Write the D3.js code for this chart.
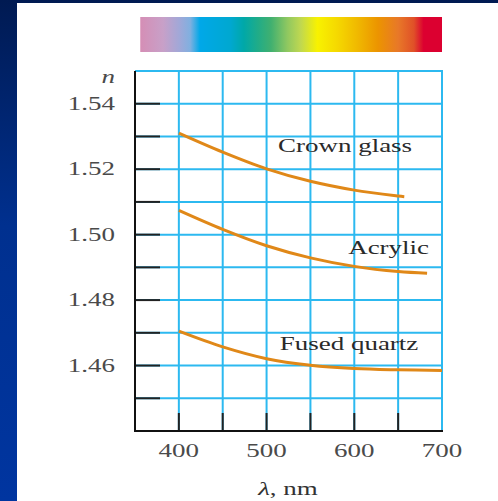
<!DOCTYPE html>
<html><head><meta charset="utf-8">
<script src="https://cdnjs.cloudflare.com/ajax/libs/d3/7.8.5/d3.min.js"></script>
<style>html,body{margin:0;padding:0;background:#fff;}svg{display:block;}</style>
</head><body>
<script>
// ---- data ----
const crownLambda   = [400, 450, 500, 550, 600, 650, 657];
const crownN        = [1.5310, 1.5252, 1.5201, 1.5163, 1.5136, 1.5118, 1.5116];
const acrylicLambda = [400, 450, 500, 550, 600, 650, 683];
const acrylicN      = [1.5074, 1.5016, 1.4966, 1.4929, 1.4903, 1.4887, 1.4882];
const quartzLambda  = [400, 450, 500, 550, 600, 650, 700];
const quartzN       = [1.4705, 1.4657, 1.4621, 1.4601, 1.4591, 1.4587, 1.4585];
const seriesNames   = ["Crown glass", "Acrylic", "Fused quartz"];
const labelLambda   = [513, 593, 515];
const labelN        = [1.5251, 1.4942, 1.4646];
const yTickLabels   = [1.46, 1.48, 1.50, 1.52, 1.54];
const xTickLabels   = [400, 500, 600, 700];
const spectrumLambda = [356, 382, 401, 413, 424, 459, 474, 490, 505, 524, 539, 558, 581, 604, 627, 650, 668, 679, 700];
const spectrumColor  = ["#d58eb5","#c8a0c8","#a0a8d8","#80b0e0","#00a8e8","#00a8d0","#00a8a8","#20ac88","#40b070","#90c860","#c0d850","#f8f200","#f5d800","#f0b800","#ec9400","#e87828","#e05028","#dc0030","#dc0030"];

// ---- layout ----
const W = 498, H = 501;
const svg = d3.select("body").append("svg").attr("width", W).attr("height", H);
const defs = svg.append("defs");

// background slide
const bg = defs.append("linearGradient").attr("id","bg").attr("x1",0).attr("y1",0).attr("x2",0).attr("y2",1);
bg.append("stop").attr("offset","0").attr("stop-color","#001a52");
bg.append("stop").attr("offset","0.45").attr("stop-color","#00308f");
bg.append("stop").attr("offset","1").attr("stop-color","#0035a0");
svg.append("rect").attr("width",W).attr("height",H).attr("fill","url(#bg)");
svg.append("rect").attr("x",17).attr("y",3).attr("width",W-17).attr("height",H-3).attr("fill","#fff");

const x = d3.scaleLinear().domain([350, 700]).range([135, 442]);
const y = d3.scaleLinear().domain([1.44, 1.55]).range([431, 71]);

const sx = 1.42; // horizontal stretch of the text
const fontFam = "'Liberation Serif','Times New Roman',serif";
function stext(g, tx, ty, str, anchor, color, size, italic) {
  return g.append("text")
    .attr("transform", `translate(${tx},${ty}) scale(${sx},1)`)
    .attr("text-anchor", anchor)
    .attr("font-family", fontFam)
    .attr("font-size", size)
    .attr("font-style", italic ? "italic" : "normal")
    .attr("fill", color)
    .text(str);
}

// spectrum bar
const l0 = spectrumLambda[0], l1 = spectrumLambda[spectrumLambda.length-1];
const sg = defs.append("linearGradient").attr("id","spec").attr("gradientUnits","userSpaceOnUse")
  .attr("x1", x(l0)).attr("x2", x(l1)).attr("y1",0).attr("y2",0);
spectrumLambda.forEach((l,i) => sg.append("stop").attr("offset",(l-l0)/(l1-l0)).attr("stop-color",spectrumColor[i]));
svg.append("rect").attr("x", x(l0)).attr("y", 17).attr("width", x(l1)-x(l0)).attr("height", 35).attr("fill","url(#spec)");

// grid
const gridColor = "#2cb9f0";
const g = svg.append("g");
const vLines = d3.range(400, 701, 50);
const hLines = d3.range(1.45, 1.5501, 0.01);
g.selectAll(".v").data(vLines).join("line")
  .attr("x1", d=>x(d)).attr("x2", d=>x(d)).attr("y1", y(1.55)).attr("y2", y(1.44))
  .attr("stroke", gridColor).attr("stroke-width", 2);
g.selectAll(".h").data(hLines).join("line")
  .attr("x1", x(350)).attr("x2", x(700)+1).attr("y1", d=>y(d)).attr("y2", d=>y(d))
  .attr("stroke", gridColor).attr("stroke-width", 2);

// black ticks
g.selectAll(".yt").data(hLines.filter(d => d < 1.545)).join("line")
  .attr("x1", x(350)).attr("x2", x(350)+25).attr("y1", d=>y(d)).attr("y2", d=>y(d))
  .attr("stroke", "#222").attr("stroke-width", 2);
g.selectAll(".xt").data(vLines.filter(d => d < 700)).join("line")
  .attr("x1", d=>x(d)).attr("x2", d=>x(d)).attr("y1", y(1.44)).attr("y2", y(1.44)-18)
  .attr("stroke", "#222").attr("stroke-width", 2);

// axes
g.append("line").attr("x1", x(350)).attr("x2", x(350)).attr("y1", y(1.55)).attr("y2", y(1.44)+1)
  .attr("stroke","#111").attr("stroke-width",2);
g.append("line").attr("x1", x(350)-1).attr("x2", x(700)+1).attr("y1", y(1.44)).attr("y2", y(1.44))
  .attr("stroke","#111").attr("stroke-width",2);

// curves
const line = d3.line().x(d=>x(d[0])).y(d=>y(d[1])).curve(d3.curveCatmullRom.alpha(0.5));
const series = [[crownLambda, crownN],[acrylicLambda, acrylicN],[quartzLambda, quartzN]];
series.forEach(([L, N], i) => {
  svg.append("path").datum(L.map((l,j)=>[l, N[j]])).attr("d", line)
    .attr("fill","none").attr("stroke","#e08818").attr("stroke-width",3).attr("stroke-linecap","butt");
  stext(svg, x(labelLambda[i]), y(labelN[i]), seriesNames[i], "start", "#2a2a2a", 19, false);
});

// tick labels
yTickLabels.forEach(v => stext(svg, 115, y(v)+6, d3.format(".2f")(v), "end", "#4a4a4a", 19, false));
xTickLabels.forEach(v => stext(svg, x(v), 457, String(v), "middle", "#4a4a4a", 19, false));
stext(svg, 115, 83, "n", "end", "#4a4a4a", 19, true);

// x axis title
const t = svg.append("text")
  .attr("transform", `translate(288,495) scale(${sx},1)`)
  .attr("text-anchor","middle").attr("font-family", fontFam).attr("font-size",19).attr("fill","#333");
t.append("tspan").attr("font-style","italic").text("λ");
t.append("tspan").text(", nm");
</script>
</body></html>
